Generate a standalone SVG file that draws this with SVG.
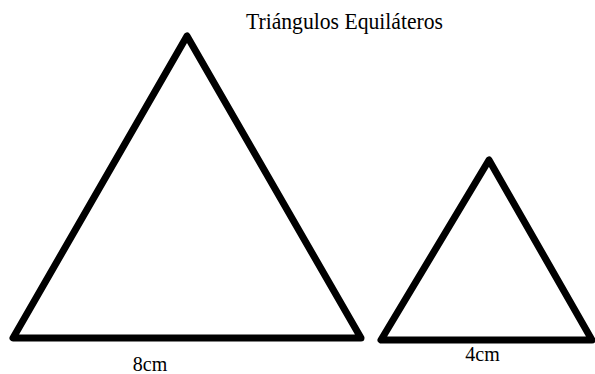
<svg xmlns="http://www.w3.org/2000/svg" width="595" height="374" viewBox="0 0 595 374">
<style>
.tri{fill:none;stroke:#000;stroke-width:7;stroke-linejoin:round}
.lbl{font-family:"Liberation Serif","Times New Roman",serif;font-size:20px;fill:#000}
.ttl{font-family:"Liberation Serif","Times New Roman",serif;font-size:23px;fill:#000}
</style>
<rect width="595" height="374" fill="#fff"/>
<g id="title"><text class="ttl" x="246" y="29" textLength="197" lengthAdjust="spacingAndGlyphs">Triángulos Equiláteros</text></g>
<g id="big-triangle">
<polygon class="tri" points="187,36 13,338 361,338"/>
<text class="lbl" x="150" y="371" text-anchor="middle">8cm</text>
</g>
<g id="small-triangle">
<polygon class="tri" points="489,160 381,340 592,340"/>
<text class="lbl" x="482.5" y="361" text-anchor="middle">4cm</text>
</g>
<g id="connectors"/>
</svg>
